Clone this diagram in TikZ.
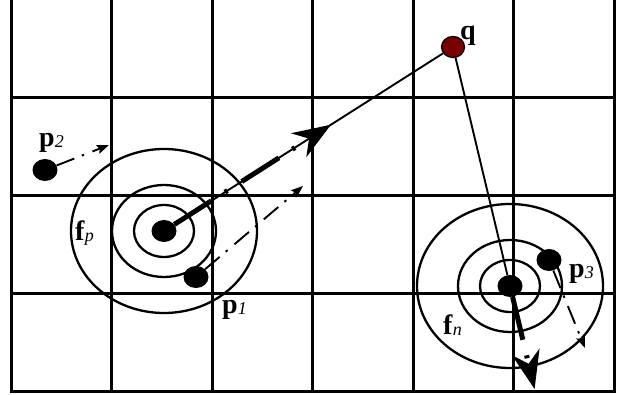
\documentclass[tikz,border=0pt]{standalone}
\usepackage{fontspec}
\setmainfont{Liberation Serif}
\usepackage{xcolor}
\usetikzlibrary{arrows.meta,calc,shapes.geometric}
\definecolor{qred}{HTML}{7A0000}
\newcommand{\vlab}[2]{\textbf{#1}\raisebox{-0.5pt}{\fontsize{18}{18}\selectfont\itshape #2}}
\tikzset{
  gridln/.style={line width=3pt, draw=black},
  ring/.style={line width=2.3pt},
  blob/.style={ellipse, fill=black, minimum width=25pt, minimum height=22pt,
               inner sep=0pt},
  qblob/.style={blob, fill=qred, draw=black, line width=1.3pt,
                minimum width=23pt, minimum height=21pt},
  link/.style={line width=1.9pt},
  flow/.style={line width=5pt, dash pattern=on 44pt off 16pt on 3pt off 17pt,
               -{Stealth[length=38pt,width=28pt,inset=12pt]}},
  drift/.style={line width=1.9pt, dash pattern=on 19pt off 8pt on 2.5pt off 9pt,
                -{Stealth[length=12pt,width=9pt,inset=2pt]}},
  lbl/.style={font=\fontsize{28}{28}\selectfont, inner sep=0pt, anchor=base west},
}

\begin{document}
\begin{tikzpicture}[x=1pt, y=-1pt]
\useasboundingbox (0,0) rectangle (619,395);

% ---- grid ----
\foreach \gx in {111.5,212,312.5,413,513.5}
  \draw[gridln] (\gx,-1) -- (\gx,391.5);
\foreach \gy in {97.5,195.5,293.5}
  \draw[gridln] (11,\gy) -- (614,\gy);
\draw[gridln] (11,-1) rectangle (614,391.5);

% ---- fields ----
\node[blob] (fp) at (164,231) {};
\node[blob] (fn) at (510,286) {};
\foreach \rx/\ry in {30/26,52/46,93/82}{
  \draw[ring] (fp) ellipse [x radius=\rx pt, y radius=\ry pt];
  \draw[ring] (fn) ellipse [x radius=\rx pt, y radius=\ry pt];
}

% ---- points ----
\node[blob] (p1) at (196,277) {};
\node[blob] (p2) at (45,170) {};
\node[blob] (p3) at (549,260) {};
\node[qblob] (q) at (453,47) {};

% ---- labels ----
\node[lbl] (lq)  at (460,40)   {\textbf{q}};
\node[lbl] (lp1) at (222,314)  {\vlab{p}{1}};
\node[lbl] (lp2) at (39,147)   {\vlab{p}{2}};
\node[lbl] (lp3) at (569,278)  {\vlab{p}{3}};
\node[lbl] (lfp) at (75,241)   {\vlab{f}{p}};
\node[lbl] (lfn) at (443,335)  {\vlab{f}{n}};

% ---- edges ----
\coordinate (fptip) at ($(fp)!198pt!(q)$);
\coordinate (fntip) at ($(fn)!-106pt!(q)$);
\coordinate (p1end) at (303,186);
\coordinate (p2end) at (109,145);
\coordinate (p3end) at (585,348);

\draw[link] (q) -- (fp);
\draw[link] (q) -- (fn);
\draw[flow] (fp) -- (fptip);
\draw[flow] (fn) -- (fntip);

% moves of the points = dash-dotted
\draw[drift] (p1) -- (p1end);
\draw[drift] (p2) -- (p2end);
\draw[drift] (p3) -- (p3end);

\end{tikzpicture}
\end{document}
